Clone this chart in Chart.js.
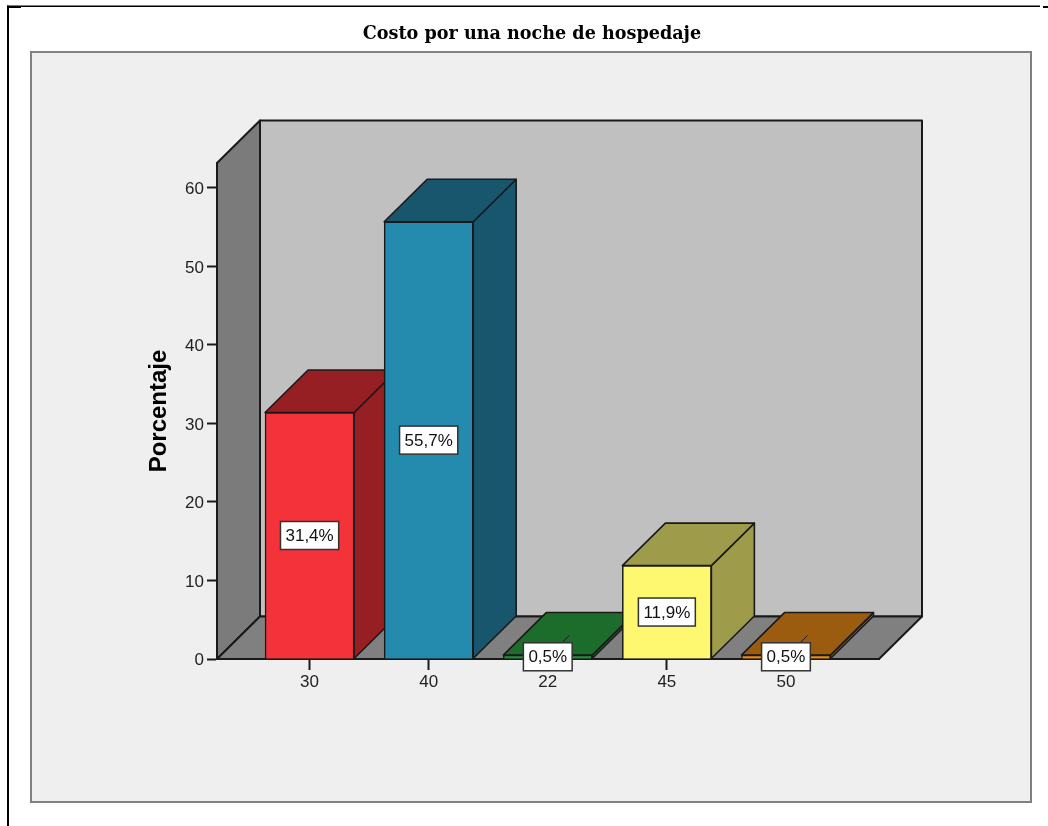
<!DOCTYPE html>
<html>
<head>
<meta charset="utf-8">
<title>Costo por una noche de hospedaje</title>
<script src="https://cdn.jsdelivr.net/npm/chart.js@4"></script>
<style>
  html, body { margin: 0; padding: 0; background: #fff; }
  #wrap { width: 1048px; height: 826px; }
  canvas { filter: blur(0.45px); }
</style>
</head>
<body>
<div id="wrap"><canvas id="costoChart"></canvas></div>
<script>
const categories = ["30", "40", "22", "45", "50"];
const percentages = [31.4, 55.7, 0.5, 11.9, 0.5];
const frontColors = ["#f33339", "#248aae", "#26913c", "#fdf870", "#ee8a12"];
const shadeColors = ["#951f23", "#17566d", "#1c6c2c", "#9e9c4a", "#9c5c10"];

const DEPTH_X = 43;
const DEPTH_Y = 42.5;
const LINE = "#1a1a1a";

function poly(ctx, pts, fill, stroke, lw) {
    ctx.beginPath();
    pts.forEach((p, i) => i ? ctx.lineTo(p[0], p[1]) : ctx.moveTo(p[0], p[1]));
    ctx.closePath();
    if (fill) { ctx.fillStyle = fill; ctx.fill(); }
    if (stroke) { ctx.strokeStyle = stroke; ctx.lineWidth = lw; ctx.lineJoin = "round"; ctx.stroke(); }
}

const box3d = {
    id: "box3d",
    beforeDraw(chart) {
        const ctx = chart.ctx;
        const a = chart.chartArea;
        ctx.save();
        // page frame
        ctx.fillStyle = "#fff";
        ctx.fillRect(0, 0, chart.width, chart.height);
        ctx.fillStyle = "#000";
        ctx.fillRect(7, 5.5, 1033, 1.5);
        ctx.fillRect(7, 5.5, 2, 821);
        ctx.fillRect(7, 6, 14, 2);
        ctx.fillRect(1043, 6, 5, 2);
        // panel
        ctx.fillStyle = "#efefef";
        ctx.fillRect(31, 52, 1000, 750);
        ctx.strokeStyle = "#808080";
        ctx.lineWidth = 2;
        ctx.strokeRect(31, 52, 1000, 750);
        // walls and floor
        const dx = DEPTH_X, dy = DEPTH_Y;
        poly(ctx, [[a.left + dx, a.top - dy], [a.right + dx, a.top - dy], [a.right + dx, a.bottom - dy], [a.left + dx, a.bottom - dy]], "#c0c0c0", LINE, 2);
        poly(ctx, [[a.left, a.top], [a.left + dx, a.top - dy], [a.left + dx, a.bottom - dy], [a.left, a.bottom]], "#7b7b7b", LINE, 2);
        poly(ctx, [[a.left, a.bottom], [a.left + dx, a.bottom - dy], [a.right + dx, a.bottom - dy], [a.right, a.bottom]], "#808080", LINE, 2);
        ctx.restore();
    },
    beforeDatasetsDraw(chart) {
        const ctx = chart.ctx;
        const dx = DEPTH_X, dy = DEPTH_Y;
        ctx.save();
        chart.getDatasetMeta(0).data.forEach((bar, i) => {
            const l = bar.x - bar.width / 2, r = bar.x + bar.width / 2;
            const t = bar.y, b = bar.base;
            poly(ctx, [[r, b], [r + dx, b - dy], [r + dx, t - dy], [r, t]], shadeColors[i], LINE, 1.6);
            poly(ctx, [[l, t], [l + dx, t - dy], [r + dx, t - dy], [r, t]], shadeColors[i], LINE, 1.6);
        });
        ctx.restore();
    },
    afterDatasetsDraw(chart) {
        const ctx = chart.ctx;
        const dx = DEPTH_X, dy = DEPTH_Y;
        ctx.save();
        ctx.font = "17px 'Liberation Sans'";
        ctx.textAlign = "center";
        ctx.textBaseline = "middle";
        chart.getDatasetMeta(0).data.forEach((bar, i) => {
            const cy = (bar.y + bar.base) / 2;
            const txt = percentages[i].toFixed(1).replace(".", ",") + "%";
            if (percentages[i] < 1) {
                ctx.strokeStyle = LINE;
                ctx.lineWidth = 1;
                ctx.beginPath();
                ctx.moveTo(bar.x, cy);
                ctx.lineTo(bar.x + dx / 2, cy - dy / 2);
                ctx.stroke();
            }
            const w = ctx.measureText(txt).width + 10;
            ctx.fillStyle = "#fff";
            ctx.fillRect(bar.x - w / 2, cy - 14, w, 28);
            ctx.strokeStyle = "#333";
            ctx.lineWidth = 1.5;
            ctx.strokeRect(bar.x - w / 2, cy - 14, w, 28);
            ctx.fillStyle = "#111";
            ctx.fillText(txt, bar.x, cy + 1);
        });
        ctx.restore();
    }
};

new Chart(document.getElementById("costoChart"), {
    type: "bar",
    data: {
        datasets: [{
            data: categories.map((c, i) => ({ x: i, y: percentages[i] })),
            backgroundColor: frontColors,
            borderColor: LINE,
            borderWidth: 1.5,
            barThickness: 89
        }]
    },
    options: {
        responsive: true,
        maintainAspectRatio: false,
        animation: false,
        layout: { padding: { left: 16, right: 0, top: 0, bottom: 0 } },
        plugins: {
            legend: { display: false },
            tooltip: { enabled: false },
            title: {
                display: true,
                text: "Costo por una noche de hospedaje",
                color: "#000",
                font: { family: "'DejaVu Serif'", size: 17.6, weight: "bold", lineHeight: 1.2 },
                padding: { top: 23.5, bottom: 118.4 }
            }
        },
        scales: {
            x: {
                type: "linear",
                offset: false,
                min: -0.7773,
                max: 4.7812,
                grid: { display: true, offset: false, drawOnChartArea: false, tickLength: 11, tickWidth: 2, tickColor: LINE },
                border: { color: LINE, width: 2 },
                ticks: {
                    autoSkip: false,
                    maxRotation: 0,
                    padding: 2,
                    color: "#222",
                    font: { family: "'Liberation Sans'", size: 17 },
                    callback: v => categories[v]
                },
                afterBuildTicks(scale) { scale.ticks = categories.map((c, i) => ({ value: i })); },
                afterFit(scale) { scale.height = 167; }
            },
            y: {
                min: 0,
                max: 63.18,
                grid: { display: true, drawOnChartArea: false, tickLength: 10, tickWidth: 2, tickColor: LINE },
                border: { color: LINE, width: 2 },
                ticks: {
                    stepSize: 10,
                    padding: 3,
                    labelOffset: 1.5,
                    color: "#222",
                    font: { family: "'Liberation Sans'", size: 17 }
                },
                title: {
                    display: true,
                    text: "Porcentaje",
                    color: "#000",
                    font: { family: "'Liberation Sans'", size: 24, weight: "bold", lineHeight: 1.2 },
                    padding: { top: 129 }
                },
                afterBuildTicks(scale) { scale.ticks = scale.ticks.filter(t => t.value % 10 === 0); },
                afterFit(scale) { scale.width = 201; }
            },
            pad: {
                position: "right",
                display: true,
                grid: { display: false },
                border: { display: false },
                ticks: { display: false },
                afterFit(scale) { scale.width = 169; }
            }
        }
    },
    plugins: [box3d]
});
</script>
</body>
</html>
